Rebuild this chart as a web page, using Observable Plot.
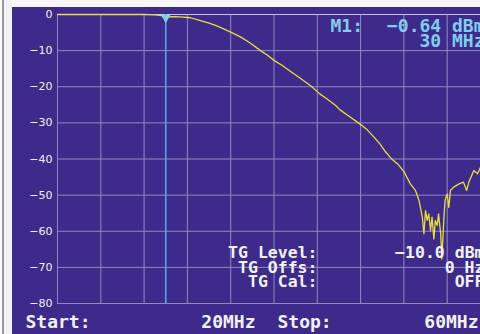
<!DOCTYPE html>
<html>
<head>
<meta charset="utf-8">
<script src="https://cdn.jsdelivr.net/npm/d3@7"></script>
<script src="https://cdn.jsdelivr.net/npm/@observablehq/plot@0.6"></script>
<style>
  html, body { margin: 0; padding: 0; background: #fff; overflow: hidden; }
  #wrap { position: relative; width: 480px; height: 334px; overflow: hidden; }
  #chart { position: absolute; left: 0; top: 0; width: 500px; height: 334px; }
  #chart svg { max-width: none !important; width: 500px; height: 334px; }
  #topstrip { position: absolute; left: 0; top: 0; width: 480px; height: 7px; background: #f6f6f8; }
  #leftstrip { position: absolute; left: 0; top: 0; width: 12px; height: 334px;
    background: linear-gradient(to right, #fbfbfb 0 2px, #9a9aa0 2px 4px, #f2f2f4 4px 12px); }
</style>
</head>
<body>
<div id="wrap"><div id="chart"></div><div id="topstrip"></div><div id="leftstrip"></div></div>
<script>
const freqMHz = [20, 22, 24, 26, 28, 29, 29.6, 30, 30.8, 31.6, 32.3, 33.2, 34, 34.6, 35.3, 36, 36.9, 37.8, 38.75, 39.4, 40, 40.8, 41.6, 42.4, 43, 43.5, 44.2, 45, 45.7, 46.1, 46.9, 47.8, 48.5, 49.2, 49.8, 50.3, 50.9, 51.5, 52.0, 52.6, 53.07, 53.4, 53.7, 53.85, 54.0, 54.15, 54.3, 54.46, 54.6, 54.77, 54.9, 55.08, 55.2, 55.4, 55.5, 55.7, 55.8, 56.0, 56.15, 56.3, 56.6, 57.1, 57.5, 57.8, 58.0, 58.46, 58.8, 59.08, 59.5, 60];
const levelDbm = [0, 0, 0, 0, 0, -0.1, -0.3, -0.64, -0.6, -0.7, -0.9, -1.7, -2.4, -3.0, -3.9, -4.9, -6.2, -7.9, -10, -11.3, -12.7, -14.2, -15.9, -17.6, -18.9, -20, -21.9, -23.6, -25.2, -26.4, -28.1, -30, -31.6, -33.8, -35.9, -38, -40.1, -41.6, -43.5, -46.9, -48.7, -51.5, -56.1, -60.7, -54.3, -57, -55.2, -59.8, -56.1, -62.1, -57, -58.4, -55.2, -60.7, -67.7, -56.1, -51.5, -49.7, -53.4, -48.7, -47.8, -46.9, -46.4, -48.7, -46.4, -43.2, -44.1, -42.3, -41.5, -40.8];
const xGrid = [20, 24, 28, 32, 36, 40, 44, 48, 52, 56, 60];
const yTicks = [0, -10, -20, -30, -40, -50, -60, -70, -80];
const startMHz = 20;
const stopMHz = 60;
const markerName = "M1";
const markerFreq = 30;
const markerLevel = -0.64;
const tgLevel = -10.0;
const tgOffsHz = 0;
const tgCal = "OFF";

const trace = freqMHz.map((f, i) => ({f, db: levelDbm[i]}));
const minus = s => s.replace("-", "\u2212");

const bg = "#3d2a8a";
const grid = "#8e8ac4";
const cyan = "#82cdf0";
const white = "#f2f2f6";
const mono = "'DejaVu Sans Mono', monospace";

const chart = Plot.plot({
  width: 500,
  height: 334,
  marginLeft: 57,
  marginRight: 10,
  marginTop: 14,
  marginBottom: 31,
  style: {background: bg, color: white, fontFamily: "'DejaVu Sans', sans-serif", maxWidth: "none"},
  x: {domain: [startMHz, stopMHz], axis: null},
  y: {domain: [-80, 0], axis: null},
  marks: [
    Plot.ruleX(xGrid, {stroke: grid, strokeWidth: 1}),
    Plot.ruleY(yTicks, {stroke: d => d === 0 ? "#c8c5e2" : grid, strokeWidth: 1}),
    Plot.axisY(yTicks, {label: null, tickSize: 0, tickPadding: 5, fontSize: 11, fill: white, letterSpacing: "1px", tickFormat: d => d === 0 ? "0" : minus(String(d))}),
    Plot.ruleX([markerFreq], {stroke: "#4fa8ec", strokeWidth: 1.6}),
    Plot.line(trace, {x: "f", y: "db", stroke: "#e6de3a", strokeWidth: 1.3, strokeLinejoin: "round"}),
    Plot.dot([{f: markerFreq, db: markerLevel}], {x: "f", y: "db", symbol: "triangle", rotate: 180, r: 3.5, fill: cyan, stroke: "none", dy: 1}),
    // marker readout
    Plot.text([`${markerName}:`], {frameAnchor: "top-left", dx: 273, dy: 17.7, textAnchor: "start", lineAnchor: "bottom", fill: cyan, fontFamily: mono, fontWeight: "bold", fontSize: 18}),
    Plot.text([`${minus(markerLevel.toFixed(2))} dBm`], {frameAnchor: "top-left", dx: 427, dy: 17.7, textAnchor: "end", lineAnchor: "bottom", fill: cyan, fontFamily: mono, fontWeight: "bold", fontSize: 18}),
    Plot.text([`${markerFreq} MHz`], {frameAnchor: "top-left", dx: 427, dy: 32.7, textAnchor: "end", lineAnchor: "bottom", fill: cyan, fontFamily: mono, fontWeight: "bold", fontSize: 18}),
    // tracking generator info
    Plot.text(["TG Level:\nTG Offs:\nTG Cal:"], {frameAnchor: "bottom-left", dx: 260, dy: -16.3, textAnchor: "end", lineAnchor: "bottom", lineHeight: 0.88, fill: white, fontFamily: mono, fontWeight: "bold", fontSize: 16.5}),
    Plot.text([`${minus(tgLevel.toFixed(1))} dBm\n${tgOffsHz} Hz\n${tgCal}`], {frameAnchor: "bottom-left", dx: 427, dy: -16.3, textAnchor: "end", lineAnchor: "bottom", lineHeight: 0.88, fill: white, fontFamily: mono, fontWeight: "bold", fontSize: 16.5}),
    // start / stop
    Plot.text(["Start:"], {frameAnchor: "bottom-left", dx: -32, dy: 24, textAnchor: "start", lineAnchor: "bottom", fill: white, fontFamily: mono, fontWeight: "bold", fontSize: 18}),
    Plot.text([`${startMHz}MHz`], {frameAnchor: "bottom-left", dx: 198, dy: 24, textAnchor: "end", lineAnchor: "bottom", fill: white, fontFamily: mono, fontWeight: "bold", fontSize: 18}),
    Plot.text(["Stop:"], {frameAnchor: "bottom-left", dx: 220, dy: 24, textAnchor: "start", lineAnchor: "bottom", fill: white, fontFamily: mono, fontWeight: "bold", fontSize: 18}),
    Plot.text([`${stopMHz}MHz`], {frameAnchor: "bottom-left", dx: 421, dy: 24, textAnchor: "end", lineAnchor: "bottom", fill: white, fontFamily: mono, fontWeight: "bold", fontSize: 18})
  ]
});
document.getElementById("chart").appendChild(chart);
</script>
</body>
</html>
